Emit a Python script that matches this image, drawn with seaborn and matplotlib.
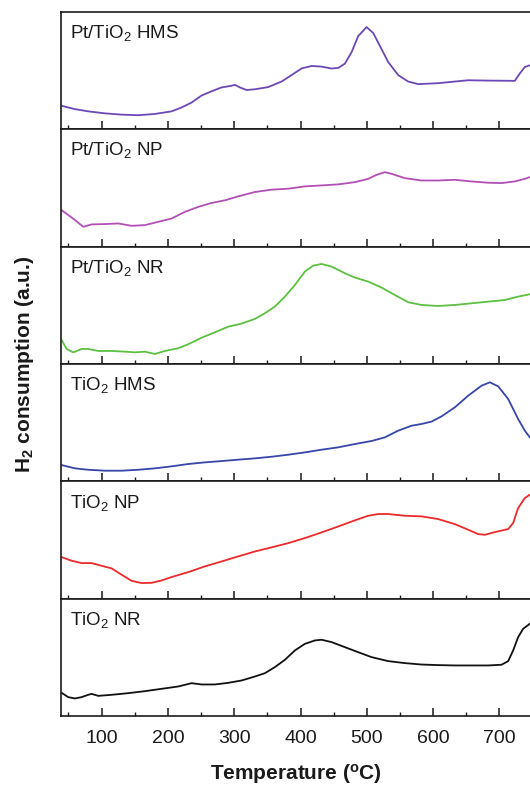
import matplotlib
matplotlib.use('Agg')
import matplotlib.pyplot as plt
from matplotlib.ticker import MultipleLocator
import seaborn as sns
import pandas as pd

# H2-TPR profiles, values read as % of panel height (a.u.)
pt_hms_temp = [39.7, 59.8, 79.9, 105, 130.2, 155.3, 180.4, 205.5, 220.6, 235.7, 250.8, 265.8,
               280.9, 296, 301, 308.5, 318.6, 331.2, 351.3, 371.4, 386.4, 401.5, 416.6, 431.7,
               446.7, 456.8, 466.8, 476.9, 486.9, 499.5, 509.5, 519.6, 532.2, 547.2, 562.3,
               577.4, 607.5, 632.7, 652.8, 682.9, 723.1, 730.7, 738.2, 745.7]
pt_hms_val = [19.9, 17.1, 15.2, 13.5, 12.4, 11.9, 13.0, 15.2, 18.5, 22.7, 28.7, 32.3,
              35.6, 37.0, 37.8, 35.6, 33.4, 34.0, 35.9, 40.6, 46.1, 51.7, 53.9, 53.3,
              51.7, 52.2, 55.8, 65.5, 79.3, 87.0, 82.0, 71.0, 57.2, 46.1, 40.6,
              38.4, 39.2, 40.6, 41.7, 41.4, 41.2, 47.5, 53.0, 54.4]

pt_np_temp = [39.7, 54.8, 72.4, 84.9, 105, 125.1, 145.2, 165.3, 185.4, 205.5, 225.6, 245.7,
              265.8, 285.9, 306, 331.2, 356.3, 381.4, 406.5, 431.7, 456.8, 481.9, 502,
              514.6, 527.1, 537.2, 557.3, 582.4, 607.5, 632.7, 657.8, 682.9, 703, 723.1,
              738.2, 745.7]
pt_np_val = [31.0, 24.8, 16.9, 18.9, 19.2, 19.7, 17.7, 18.3, 21.1, 23.9, 29.6, 33.8,
             37.2, 39.4, 42.8, 46.5, 48.5, 49.3, 51.3, 52.1, 53.0, 54.9, 57.7,
             61.1, 63.4, 62.0, 58.3, 56.3, 56.3, 56.9, 55.5, 54.4, 54.1, 55.5,
             57.7, 59.2]

pt_nr_temp = [39.7, 47.2, 57.3, 69.8, 79.9, 95, 115.1, 135.2, 150.3, 165.3, 180.4, 195.5,
              215.6, 230.7, 250.8, 270.9, 291, 311.1, 331.2, 346.2, 361.3, 376.4, 391.5,
              406.5, 419.1, 431.7, 446.7, 466.8, 481.9, 502, 522.1, 542.2, 562.3, 582.4,
              607.5, 632.7, 657.8, 682.9, 708, 728.1, 745.7]
pt_nr_val = [20.5, 12.8, 9.9, 12.8, 12.8, 11.1, 11.1, 10.5, 9.9, 10.5, 8.5, 11.1,
             13.4, 16.8, 22.4, 27.0, 31.8, 34.4, 38.4, 43.2, 48.9, 57.4, 67.3,
             78.7, 83.8, 85.2, 83.0, 77.3, 73.6, 70.2, 65.1, 58.8, 52.6, 50.3,
             49.4, 50.3, 51.7, 53.1, 54.5, 57.4, 59.4]

hms_temp = [39.7, 59.8, 79.9, 105, 130.2, 155.3, 180.4, 205.5, 230.7, 255.8, 280.9, 306,
            331.2, 356.3, 381.4, 406.5, 431.7, 456.8, 481.9, 507, 527.1, 547.2, 567.3,
            582.4, 597.5, 612.6, 632.7, 652.8, 672.9, 685.4, 698, 713.1, 728.1, 738.2, 745.7]
hms_val = [13.9, 11.1, 9.9, 9.1, 9.1, 9.9, 11.1, 12.8, 14.8, 16.2, 17.3, 18.5,
           19.6, 21.0, 22.7, 24.7, 27.0, 29.0, 31.8, 34.4, 37.5, 43.2, 47.4,
           48.9, 50.9, 55.4, 63.1, 73.0, 81.5, 84.4, 81.0, 70.2, 53.1, 43.2, 37.5]

np_temp = [39.7, 54.8, 69.8, 84.9, 100, 115.1, 130.2, 145.2, 160.3, 175.4, 190.5, 205.5,
           230.7, 255.8, 280.9, 306, 331.2, 356.3, 381.4, 406.5, 431.7, 456.8, 481.9,
           502, 517.1, 532.2, 557.3, 582.4, 607.5, 632.7, 652.8, 667.8, 677.9, 693,
           713.1, 720.6, 728.1, 738.2, 745.7]
np_val = [35.5, 32.4, 30.4, 30.4, 28.1, 25.9, 20.5, 15.3, 13.4, 13.6, 15.6, 18.5,
          22.7, 27.6, 31.8, 36.1, 40.3, 43.8, 47.4, 51.7, 56.5, 61.6, 66.8,
          70.7, 72.2, 72.2, 70.7, 70.2, 67.9, 63.6, 58.8, 55.1, 54.5, 56.8,
          59.4, 64.5, 77.3, 85.8, 88.6]

nr_temp = [39.7, 49.7, 59.8, 69.8, 79.9, 84.9, 95, 115.1, 140.2, 165.3, 190.5, 215.6,
           235.7, 250.8, 270.9, 291, 311.1, 331.2, 346.2, 361.3, 376.4, 391.5, 406.5,
           421.6, 431.7, 446.7, 466.8, 486.9, 507, 532.2, 557.3, 582.4, 607.5, 632.7,
           657.8, 682.9, 703, 713.1, 720.6, 728.1, 735.6, 745.7]
nr_val = [19.9, 16.2, 15.1, 16.2, 18.2, 19.0, 17.3, 18.2, 19.6, 21.3, 23.3, 25.3,
          28.1, 27.0, 27.0, 28.4, 30.4, 33.8, 36.6, 41.8, 48.0, 56.0, 61.6,
          64.5, 65.1, 63.1, 58.8, 54.5, 50.3, 46.9, 45.2, 44.0, 43.5, 43.2,
          43.2, 43.2, 43.8, 46.9, 56.0, 67.3, 74.4, 78.7]

labels = ['Pt/TiO$_2$ HMS', 'Pt/TiO$_2$ NP', 'Pt/TiO$_2$ NR',
          'TiO$_2$ HMS', 'TiO$_2$ NP', 'TiO$_2$ NR']
colors = ['#6c48b4', '#b24fb6', '#5cc040', '#3646aa', '#ec2a2a', '#111111']
temps = [pt_hms_temp, pt_np_temp, pt_nr_temp, hms_temp, np_temp, nr_temp]
vals = [pt_hms_val, pt_np_val, pt_nr_val, hms_val, np_val, nr_val]

sns.set_style('ticks')
plt.rcParams['font.family'] = ['Liberation Sans', 'DejaVu Sans']
plt.rcParams['mathtext.fontset'] = 'custom'
plt.rcParams['mathtext.rm'] = 'Liberation Sans'
plt.rcParams['mathtext.it'] = 'Liberation Sans:italic'
plt.rcParams['mathtext.bf'] = 'Liberation Sans:bold'
plt.rcParams['text.color'] = '#1a1a1a'
plt.rcParams['xtick.color'] = '#1a1a1a'
plt.rcParams['xtick.labelcolor'] = '#1a1a1a'
plt.rcParams['xtick.direction'] = 'in'
plt.rcParams['xtick.bottom'] = True
plt.rcParams['xtick.top'] = False
plt.rcParams['axes.edgecolor'] = '#1a1a1a'

fig, axes = plt.subplots(6, 1, figsize=(5.3, 7.87), dpi=100, sharex=True,
                         gridspec_kw={'hspace': 0})
fig.subplots_adjust(left=0.116, right=1.0, top=0.985, bottom=0.090)

for ax, lab, c, t, v in zip(axes, labels, colors, temps, vals):
    df = pd.DataFrame({'T': t, 'H2': v})
    sns.lineplot(data=df, x='T', y='H2', ax=ax, color=c, lw=1.3, sort=False)
    ax.set_ylim(0, 100)
    ax.set_yticks([])
    ax.set_ylabel('')
    ax.set_xlabel('')
    ax.text(0.018, 0.905, lab, transform=ax.transAxes, ha='left', va='top', fontsize=13.5)
    for s in ['top', 'bottom', 'left']:
        ax.spines[s].set_linewidth(1.2)
    ax.spines['right'].set_visible(False)
    ax.xaxis.set_major_locator(MultipleLocator(100))
    ax.xaxis.set_minor_locator(MultipleLocator(50))
    ax.tick_params(axis='x', which='major', direction='in', length=5.5, width=1.1,
                   bottom=True, labelsize=14, pad=10)
    ax.tick_params(axis='x', which='minor', direction='in', length=2.8, width=1.0,
                   bottom=True)

axes[-1].set_xlim(39.5, 746)

fig.text(0.558, 0.016, 'Temperature ($\\mathbf{^{o}}$C)', ha='center', va='center',
         fontsize=15, fontweight='bold')
fig.text(0.046, 0.5375, 'H$_\\mathbf{2}$ consumption (a.u.)', ha='center', va='center',
         rotation=90, fontsize=15, fontweight='bold')

plt.savefig('out.png', dpi=100)
